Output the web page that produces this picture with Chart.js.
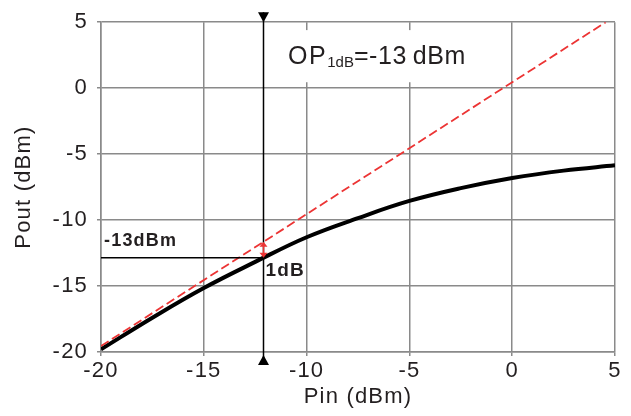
<!DOCTYPE html>
<html>
<head>
<meta charset="utf-8">
<style>
  html, body { margin: 0; padding: 0; background: #ffffff; }
  #wrap { width: 631px; height: 416px; }
</style>
<script src="https://cdn.jsdelivr.net/npm/chart.js@4/dist/chart.umd.min.js"></script>
</head>
<body>
<div id="wrap"><canvas id="c" width="631" height="416"></canvas></div>
<script>
// ---- data ----
const pinValues  = [-20, -17.5, -15, -12.5, -10, -7.5, -5, -2.5, 0, 2.5, 5];
const poutValues = [-19.8, -17.4, -15.15, -13.17, -11.3, -9.85, -8.55, -7.58, -6.81, -6.25, -5.85];
const linearPin  = [-20, 4.55];
const linearPout = [-19.55, 5];
const xTickValues = [-20, -15, -10, -5, 0, 5];
const yTickValues = [-20, -15, -10, -5, 0, 5];
const op1dbPin = -12.1;
const op1dbPout = -12.85;
const op1dbLinear = -11.65;
const op1dbText = '-13dBm';
const compressionText = '1dB';
const titleMain = 'OP';
const titleSub = '1dB';
const titleRest = '=-13\u2009dBm';

const TEXT = '#231f20';
const GRID = '#8a8a8a';
const RED = 'rgb(236,52,52)';
const FONT = "'Liberation Sans', Arial, Helvetica, sans-serif";

Chart.defaults.font.family = FONT;
Chart.defaults.color = TEXT;

const spacingPlugin = {
  id: 'spacing',
  beforeLayout(chart) { chart.ctx.letterSpacing = '1.2px'; },
  beforeDraw(chart) { chart.ctx.letterSpacing = '1.2px'; }
};

const annotPlugin = {
  id: 'annot',
  beforeDatasetsDraw(chart) {
    const ctx = chart.ctx;
    const xs = chart.scales.x, ys = chart.scales.y;
    ctx.save();
    // white box behind the heading
    const bx0 = xs.getPixelForValue(-11.1), bx1 = xs.getPixelForValue(-1.6);
    const by0 = ys.getPixelForValue(4.4), by1 = ys.getPixelForValue(0.45);
    ctx.fillStyle = '#ffffff';
    ctx.fillRect(bx0, by0, bx1 - bx0, by1 - by0);
    // heading OP1dB=-13 dBm
    ctx.fillStyle = TEXT;
    ctx.textBaseline = 'alphabetic';
    ctx.textAlign = 'left';
    let tx = xs.getPixelForValue(-10.9);
    const ty = ys.getPixelForValue(1.8);
    ctx.letterSpacing = '1.5px';
    ctx.font = '25px ' + FONT;
    ctx.fillText(titleMain, tx, ty);
    tx += ctx.measureText(titleMain).width;
    ctx.letterSpacing = '0px';
    ctx.font = '15px ' + FONT;
    ctx.fillText(titleSub, tx, ty + 3);
    tx += ctx.measureText(titleSub).width;
    ctx.letterSpacing = '0.6px';
    ctx.font = '25px ' + FONT;
    ctx.fillText(titleRest, tx, ty);
    ctx.restore();
  },
  afterDatasetsDraw(chart) {
    const ctx = chart.ctx;
    const xs = chart.scales.x, ys = chart.scales.y;
    const area = chart.chartArea;
    const mx = Math.round(xs.getPixelForValue(op1dbPin)) + 0.5;
    const my = ys.getPixelForValue(op1dbPout);
    const ly = ys.getPixelForValue(op1dbLinear);
    ctx.save();
    // vertical marker
    const topY = area.top - 10, botY = area.bottom + 13;
    ctx.strokeStyle = '#000';
    ctx.lineWidth = 1.5;
    ctx.beginPath();
    ctx.moveTo(mx, topY);
    ctx.lineTo(mx, botY);
    ctx.stroke();
    ctx.fillStyle = '#000';
    ctx.beginPath();
    ctx.moveTo(mx - 5.5, topY);
    ctx.lineTo(mx + 5.5, topY);
    ctx.lineTo(mx, topY + 10);
    ctx.closePath();
    ctx.fill();
    ctx.beginPath();
    ctx.moveTo(mx - 5.5, botY);
    ctx.lineTo(mx + 5.5, botY);
    ctx.lineTo(mx, botY - 10);
    ctx.closePath();
    ctx.fill();
    // horizontal marker
    ctx.beginPath();
    ctx.moveTo(area.left, my);
    ctx.lineTo(mx, my);
    ctx.stroke();
    // red 1dB arrow
    ctx.strokeStyle = RED;
    ctx.fillStyle = RED;
    ctx.lineWidth = 1.5;
    ctx.beginPath();
    ctx.moveTo(mx, ly + 3);
    ctx.lineTo(mx, my - 3);
    ctx.stroke();
    ctx.beginPath();
    ctx.moveTo(mx, ly);
    ctx.lineTo(mx - 4, ly + 5);
    ctx.lineTo(mx + 4, ly + 5);
    ctx.closePath();
    ctx.fill();
    ctx.beginPath();
    ctx.moveTo(mx, my);
    ctx.lineTo(mx - 4, my - 5);
    ctx.lineTo(mx + 4, my - 5);
    ctx.closePath();
    ctx.fill();
    // labels
    ctx.fillStyle = TEXT;
    ctx.textAlign = 'left';
    ctx.textBaseline = 'alphabetic';
    ctx.letterSpacing = '1.2px';
    ctx.font = 'bold 18px ' + FONT;
    ctx.fillText(op1dbText, area.left + 3, my - 11.5);
    ctx.font = 'bold 19px ' + FONT;
    ctx.fillText(compressionText, mx + 2, my + 18);
    ctx.restore();
  }
};

new Chart(document.getElementById('c'), {
  type: 'line',
  data: {
    datasets: [
      {
        label: 'Linear',
        data: linearPin.map((x, i) => ({ x, y: linearPout[i] })),
        borderColor: RED,
        borderWidth: 1.8,
        borderDash: [9, 4],
        pointRadius: 0,
        fill: false
      },
      {
        label: 'Pout',
        data: pinValues.map((x, i) => ({ x, y: poutValues[i] })),
        borderColor: '#000000',
        borderWidth: 4,
        pointRadius: 0,
        tension: 0.4,
        fill: false
      }
    ]
  },
  options: {
    responsive: false,
    animation: false,
    events: [],
    layout: { padding: { left: 0, top: 19, right: 16, bottom: 0 } },
    plugins: { legend: { display: false }, tooltip: { enabled: false } },
    scales: {
      x: {
        type: 'linear',
        min: -20, max: 5,
        afterBuildTicks: s => { s.ticks = xTickValues.map(v => ({ value: v })); },
        afterFit: s => { s.height = 64; },
        grid: { color: GRID, lineWidth: 1.5, tickLength: 4, tickColor: GRID },
        border: { color: GRID, width: 1.5 },
        ticks: { font: { size: 22 }, color: TEXT, padding: 2, maxRotation: 0 },
        title: { display: true, text: 'Pin (dBm)', font: { size: 22 }, color: TEXT, padding: { top: 0, bottom: 6 } }
      },
      y: {
        type: 'linear',
        min: -20, max: 5,
        afterBuildTicks: s => { s.ticks = yTickValues.map(v => ({ value: v })); },
        afterFit: s => { s.width = 101; },
        grid: { color: GRID, lineWidth: 1.5, tickLength: 4, tickColor: GRID },
        border: { color: GRID, width: 1.5 },
        ticks: { font: { size: 22 }, color: TEXT, padding: 9 },
        title: { display: true, text: 'Pout (dBm)', font: { size: 22 }, color: TEXT, padding: { top: 11, bottom: 0 } }
      }
    }
  },
  plugins: [spacingPlugin, annotPlugin]
});
</script>
</body>
</html>
